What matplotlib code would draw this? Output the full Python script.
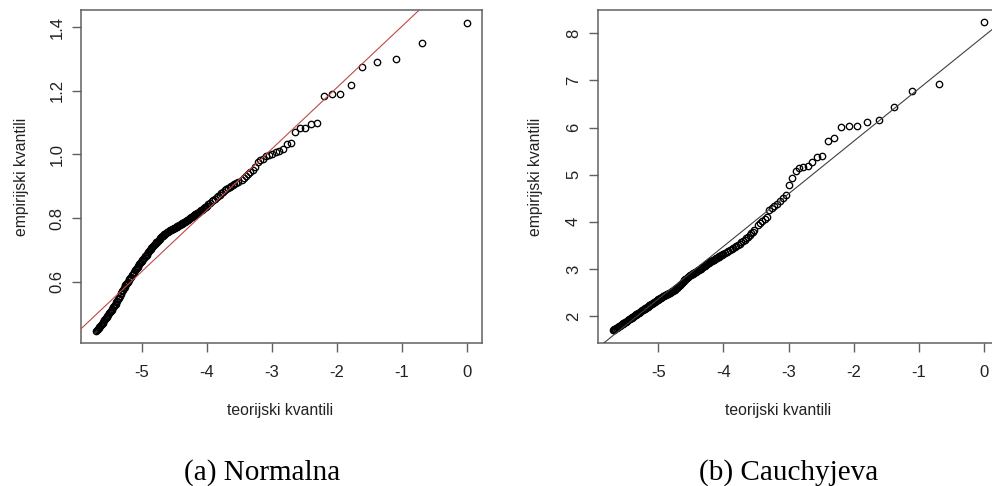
import matplotlib
matplotlib.use("Agg")
import matplotlib.pyplot as plt

plt.rcParams['font.family'] = ['Liberation Sans', 'DejaVu Sans']
plt.rcParams['axes.unicode_minus'] = False

theo_top = [0.0, -0.693, -1.099, -1.386, -1.609, -1.792, -1.946, -2.079,
            -2.197, -2.303, -2.398, -2.485, -2.565, -2.639, -2.708, -2.773,
            -2.833, -2.890, -2.944, -2.996, -3.045, -3.091, -3.135, -3.178,
            -3.219, -3.258, -3.296, -3.332, -3.367, -3.401, -3.434, -3.466]
# dense part of the point cloud
theo_dense = [-3.525, -3.55, -3.575, -3.6, -3.625, -3.65, -3.675, -3.7,
              -3.725, -3.75, -3.775, -3.8, -3.825, -3.85, -3.875, -3.9,
              -3.925, -3.95, -3.975, -4.0, -4.025, -4.05, -4.075, -4.1,
              -4.125, -4.15, -4.175, -4.2, -4.225, -4.25, -4.275, -4.3,
              -4.325, -4.35, -4.375, -4.4, -4.425, -4.45, -4.475, -4.5,
              -4.525, -4.55, -4.575, -4.6, -4.625, -4.65, -4.675, -4.7,
              -4.725, -4.75, -4.775, -4.8, -4.825, -4.85, -4.875, -4.9,
              -4.925, -4.95, -4.975, -5.0, -5.025, -5.05, -5.075, -5.1,
              -5.125, -5.15, -5.175, -5.2, -5.225, -5.25, -5.275, -5.3,
              -5.325, -5.35, -5.375, -5.4, -5.425, -5.45, -5.475, -5.5,
              -5.525, -5.55, -5.575, -5.6, -5.625, -5.65, -5.675, -5.7]
# the lowest part is so crowded that the circles merge into a solid band
theo_fill = [-4.0125, -4.0375, -4.0625, -4.0875, -4.1125, -4.1375, -4.1625,
             -4.1875, -4.2125, -4.2375, -4.2625, -4.2875, -4.3125, -4.3375,
             -4.3625, -4.3875, -4.4125, -4.4375, -4.4625, -4.4875, -4.5125,
             -4.5375, -4.5625, -4.5875, -4.6125, -4.6375, -4.6625, -4.6875,
             -4.7125, -4.7375, -4.7625, -4.7875, -4.8125, -4.8375, -4.8625,
             -4.8875, -4.9125, -4.9375, -4.9625, -4.9875, -5.0125, -5.0375,
             -5.0625, -5.0875, -5.1125, -5.1375, -5.1625, -5.1875, -5.2125,
             -5.2375, -5.2625, -5.2875, -5.3125, -5.3375, -5.3625, -5.3875,
             -5.4125, -5.4375, -5.4625, -5.4875, -5.5125, -5.5375, -5.5625,
             -5.5875, -5.6125, -5.6375, -5.6625, -5.6875]

norm_top = [1.414, 1.350, 1.299, 1.291, 1.274, 1.219, 1.189, 1.189,
            1.185, 1.100, 1.096, 1.083, 1.083, 1.069, 1.037, 1.033,
            1.016, 1.012, 1.008, 1.002, 0.999, 0.996, 0.985, 0.981,
            0.976, 0.960, 0.950, 0.944, 0.938, 0.932, 0.925, 0.919]
norm_dense = [0.912, 0.909, 0.907, 0.905, 0.902, 0.898, 0.895, 0.892,
              0.887, 0.883, 0.878, 0.873, 0.869, 0.865, 0.860, 0.856,
              0.852, 0.847, 0.843, 0.838, 0.834, 0.830, 0.826, 0.822,
              0.819, 0.815, 0.812, 0.808, 0.804, 0.801, 0.797, 0.793,
              0.790, 0.787, 0.783, 0.780, 0.777, 0.774, 0.771, 0.768,
              0.765, 0.763, 0.760, 0.757, 0.753, 0.749, 0.744, 0.740,
              0.735, 0.729, 0.723, 0.718, 0.712, 0.705, 0.698, 0.692,
              0.685, 0.679, 0.672, 0.665, 0.658, 0.650, 0.643, 0.635,
              0.628, 0.620, 0.612, 0.605, 0.596, 0.588, 0.579, 0.570,
              0.560, 0.550, 0.540, 0.530, 0.523, 0.515, 0.508, 0.500,
              0.493, 0.485, 0.478, 0.470, 0.464, 0.458, 0.451, 0.445]
norm_fill = [0.836, 0.832, 0.828, 0.824, 0.820, 0.817, 0.813,
             0.810, 0.806, 0.802, 0.799, 0.795, 0.791, 0.788,
             0.785, 0.781, 0.778, 0.775, 0.772, 0.769, 0.766,
             0.764, 0.761, 0.758, 0.755, 0.751, 0.746, 0.742,
             0.737, 0.732, 0.726, 0.720, 0.715, 0.708, 0.701,
             0.695, 0.688, 0.682, 0.675, 0.668, 0.661, 0.654,
             0.646, 0.639, 0.631, 0.624, 0.616, 0.608, 0.600,
             0.592, 0.583, 0.574, 0.565, 0.555, 0.545, 0.535,
             0.526, 0.519, 0.511, 0.504, 0.496, 0.489, 0.481,
             0.474, 0.467, 0.461, 0.454, 0.448]

cauchy_top = [8.23, 6.92, 6.77, 6.44, 6.16, 6.12, 6.04, 6.03,
              6.01, 5.77, 5.71, 5.40, 5.38, 5.26, 5.19, 5.17,
              5.14, 5.08, 4.93, 4.79, 4.56, 4.50, 4.44, 4.38,
              4.34, 4.30, 4.26, 4.10, 4.06, 4.02, 3.97, 3.93]
cauchy_dense = [3.832, 3.795, 3.758, 3.720, 3.688, 3.655, 3.622, 3.590,
                3.565, 3.540, 3.515, 3.490, 3.468, 3.445, 3.422, 3.400,
                3.380, 3.360, 3.340, 3.320, 3.300, 3.280, 3.260, 3.240,
                3.220, 3.200, 3.180, 3.160, 3.135, 3.110, 3.085, 3.060,
                3.035, 3.010, 2.985, 2.960, 2.940, 2.920, 2.900, 2.880,
                2.852, 2.825, 2.798, 2.770, 2.730, 2.690, 2.650, 2.610,
                2.588, 2.565, 2.542, 2.520, 2.500, 2.480, 2.460, 2.440,
                2.420, 2.400, 2.380, 2.360, 2.335, 2.310, 2.285, 2.260,
                2.238, 2.215, 2.192, 2.170, 2.145, 2.120, 2.095, 2.070,
                2.048, 2.025, 2.002, 1.980, 1.955, 1.930, 1.905, 1.880,
                1.858, 1.835, 1.812, 1.790, 1.768, 1.745, 1.722, 1.700]
cauchy_fill = [3.310, 3.290, 3.270, 3.250, 3.230, 3.210, 3.190,
               3.170, 3.148, 3.122, 3.098, 3.072, 3.048, 3.022,
               2.998, 2.972, 2.950, 2.930, 2.910, 2.890, 2.866,
               2.838, 2.812, 2.784, 2.750, 2.710, 2.670, 2.630,
               2.599, 2.576, 2.553, 2.531, 2.510, 2.490, 2.470,
               2.450, 2.430, 2.410, 2.390, 2.370, 2.348, 2.322,
               2.298, 2.272, 2.249, 2.226, 2.204, 2.181, 2.158,
               2.132, 2.108, 2.082, 2.059, 2.036, 2.014, 1.991,
               1.968, 1.942, 1.918, 1.892, 1.869, 1.846, 1.824,
               1.801, 1.779, 1.756, 1.734, 1.711]

# reference lines: (intercept, slope)
norm_line = (1.596, 0.1929)
cauchy_line = (7.94, 1.115)

x_ticks = [-5, -4, -3, -2, -1, 0]
norm_yticks = [0.6, 0.8, 1.0, 1.2, 1.4]
cauchy_yticks = [2, 3, 4, 5, 6, 7, 8]

xlab = "teorijski kvantili"
ylab = "empirijski kvantili"
captions = ["(a) Normalna", "(b) Cauchyjeva"]

W, H = 992, 486
fig = plt.figure(figsize=(W / 100, H / 100), dpi=100)


def px_box(left, top, right, bottom):
    return [left / W, 1 - bottom / H, (right - left) / W, (bottom - top) / H]


def qq_panel(ax, ys, line, line_col, yticks, ylim, xlab_x, ylab_x):
    xs = theo_top + theo_dense + theo_fill
    ax.plot(xs, ys, ls='none', marker='o', mfc='none', mec='black',
            ms=4.6, mew=0.95, zorder=2)
    ax.axline((0, line[0]), slope=line[1], color=line_col, lw=0.8, zorder=3)
    ax.set_xlim(-5.932, 0.228)
    ax.set_ylim(*ylim)
    ax.set_xticks(x_ticks)
    ax.set_yticks(yticks)
    ax.set_yticklabels([f"{t:g}" if isinstance(t, int) else f"{t:.1f}" for t in yticks])
    for s in ax.spines.values():
        s.set_color('#606060')
        s.set_linewidth(1.1)
    ax.tick_params(length=6.5, width=1.0, color='#606060', labelsize=12,
                   labelcolor='#222222')
    ax.tick_params(axis='x', pad=9.5)
    ax.tick_params(axis='y', pad=5.5, labelrotation=90)
    for lab in ax.get_yticklabels():
        lab.set_va('center')
    ax.set_xlabel(xlab, fontsize=11.3, color='#222222', va='center')
    ax.set_ylabel(ylab, fontsize=11.3, color='#222222', va='center')
    ax.xaxis.set_label_coords(xlab_x, -0.204)
    ax.yaxis.set_label_coords(ylab_x, 0.5)


ax1 = fig.add_axes(px_box(81, 10, 482, 343))
qq_panel(ax1, norm_top + norm_dense + norm_fill, norm_line, '#c04848',
         norm_yticks, (0.407, 1.454), 0.496, -0.148)

ax2 = fig.add_axes(px_box(597.7, 10, 998.7, 343))
qq_panel(ax2, cauchy_top + cauchy_dense + cauchy_fill, cauchy_line, '#404040',
         cauchy_yticks, (1.43, 8.495), 0.45, -0.154)

fig.text(262.5 / W, 1 - 479.3 / H, captions[0], family='Liberation Serif',
         fontsize=21, ha='center', va='baseline')
fig.text(789 / W, 1 - 479.3 / H, captions[1], family='Liberation Serif',
         fontsize=21, ha='center', va='baseline')

fig.savefig("out.png", dpi=100)
